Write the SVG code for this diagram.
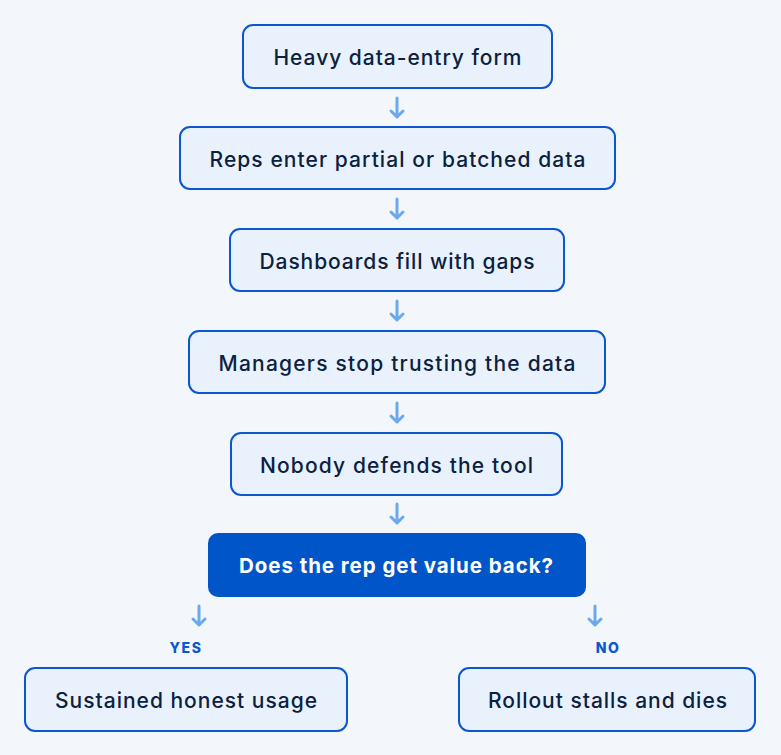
<svg xmlns="http://www.w3.org/2000/svg" width="781" height="755" viewBox="0 0 781 755">
<defs>
<style>
.bg{fill:#f3f7fc}
.box rect{fill:#e8f1fc;stroke:#0b57d0;stroke-width:2}
.box text{font-family:Inter,"Liberation Sans",sans-serif;font-weight:500;font-size:21px;fill:#0c2140;text-anchor:middle;dominant-baseline:central}
.dec rect{fill:#0055c8}
.dec text{font-family:Inter,"Liberation Sans",sans-serif;font-weight:700;font-size:20.5px;fill:#ffffff;text-anchor:middle;dominant-baseline:central}
.conn path{fill:none;stroke:#6aa9ee;stroke-width:3;stroke-linecap:round;stroke-linejoin:round}
.lbl{font-family:Inter,"Liberation Sans",sans-serif;font-weight:800;font-size:14px;fill:#0b57d0;text-anchor:middle;letter-spacing:1.5px}
</style>
</defs>
<rect class="bg" x="0" y="0" width="781" height="755"/>
<g id="connectors" class="conn">
<path d="M397 98V117M391 111L397 117L403 111"/>
<path d="M397 199V218M391 212L397 218L403 212"/>
<path d="M397 301V320M391 314L397 320L403 314"/>
<path d="M397 403V422M391 416L397 422L403 416"/>
<path d="M397 504V523M391 517L397 523L403 517"/>
<path d="M199 606V625M193 619L199 625L205 619"/>
<path d="M595 606V625M589 619L595 625L601 619"/>
</g>
<g id="n1" class="box"><rect x="243" y="25" width="309" height="63" rx="10"/><text x="397.5" y="57" textLength="248" lengthAdjust="spacing">Heavy data-entry form</text></g>
<g id="n2" class="box"><rect x="180" y="127" width="435" height="62" rx="10"/><text x="397.5" y="159" textLength="376" lengthAdjust="spacing">Reps enter partial or batched data</text></g>
<g id="n3" class="box"><rect x="230" y="229" width="334" height="62" rx="10"/><text x="397" y="261" textLength="275" lengthAdjust="spacing">Dashboards fill with gaps</text></g>
<g id="n4" class="box"><rect x="189" y="331" width="416" height="62" rx="10"/><text x="397" y="363" textLength="357" lengthAdjust="spacing">Managers stop trusting the data</text></g>
<g id="n5" class="box"><rect x="231" y="433" width="331" height="62" rx="10"/><text x="396.5" y="465" textLength="273" lengthAdjust="spacing">Nobody defends the tool</text></g>
<g id="n6" class="dec"><rect x="208" y="533" width="378" height="64" rx="10"/><text x="396" y="565" textLength="314" lengthAdjust="spacing">Does the rep get value back?</text></g>
<text class="lbl" x="186" y="653">YES</text>
<text class="lbl" x="608" y="653">NO</text>
<g id="n7" class="box"><rect x="25" y="668" width="322" height="63" rx="10"/><text x="186" y="700" textLength="262" lengthAdjust="spacing">Sustained honest usage</text></g>
<g id="n8" class="box"><rect x="459" y="668" width="296" height="63" rx="10"/><text x="607.5" y="700" textLength="239" lengthAdjust="spacing">Rollout stalls and dies</text></g>
</svg>
